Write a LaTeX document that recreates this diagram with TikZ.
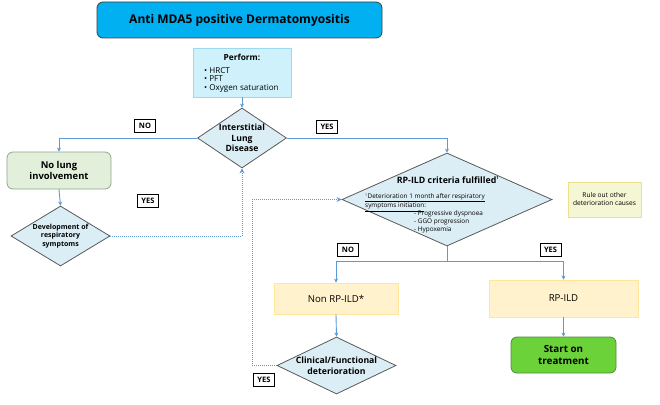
\documentclass[tikz,border=0pt]{standalone}
\usepackage{fontspec}
\setmainfont{Open Sans}
\usetikzlibrary{shapes.geometric,arrows.meta}
\definecolor{ln}{HTML}{5B9BD5}
\definecolor{titlefill}{HTML}{00B0F0}
\definecolor{perffill}{HTML}{CFF1FB}
\definecolor{perfdraw}{HTML}{9DD9F0}
\definecolor{diafill}{HTML}{DCEEF5}
\definecolor{greenfill}{HTML}{E2EFDA}
\definecolor{greendraw}{HTML}{8FA88A}
\definecolor{yelfill}{HTML}{FFF2CC}
\definecolor{yeldraw}{HTML}{FFE699}
\definecolor{rulefill}{HTML}{F4F6D4}
\definecolor{ruledraw}{HTML}{EEE08A}
\definecolor{startfill}{HTML}{6CD23A}
\definecolor{startdraw}{HTML}{4E8A3A}
\tikzset{
  arr/.style={draw=ln, line width=0.9pt, -{Stealth[length=4pt,width=4pt]}},
  dotarr/.style={draw=ln, line width=1pt, densely dotted, -{Stealth[length=5pt,width=5pt]}},
  dotln/.style={draw=ln, line width=1pt, densely dotted},
  dia/.style={diamond, draw=black!65, fill=diafill, line width=0.8pt, inner sep=0pt},
  diatext/.style={align=center, inner sep=0pt, font=\bfseries\fontsize{8.6}{10.5}\selectfont},
  lab/.style={draw=black, fill=white, line width=0.8pt, inner sep=1.5pt, minimum width=21pt, minimum height=13pt, font=\bfseries\fontsize{7.5}{8}\selectfont},
  ybox/.style={rectangle, draw=yeldraw, fill=yelfill, line width=0.8pt, font=\fontsize{9.6}{11}\selectfont},
}
\begin{document}
\begin{tikzpicture}[x=1pt,y=-1pt]
\useasboundingbox[fill=white] (0,0) rectangle (660,404);

\node[rectangle, rounded corners=6pt, draw=black!75, fill=titlefill, line width=0.8pt,
  minimum width=285pt, minimum height=36pt, font=\bfseries\fontsize{12}{14}\selectfont] (title) at (239.5,20) {Anti MDA5 positive Dermatomyositis};

\node[rectangle, draw=perfdraw, fill=perffill, line width=0.8pt, minimum width=98pt, minimum height=49pt] (perf) at (242,72.5) {};
\node[font=\bfseries\fontsize{8.3}{9}\selectfont] (perft) at (242,57) {Perform:};
\node[anchor=north west, align=left, inner sep=0pt, font=\fontsize{8.1}{8.6}\selectfont] (perfl) at (204,67) {• HRCT\\• PFT\\• Oxygen saturation};

\node[dia, minimum width=89pt, minimum height=60pt] (ild) at (242,138) {};
\node[diatext] (ildt) at (ild.center) {Interstitial\\Lung\\Disease};

\node[rectangle, rounded corners=6pt, draw=greendraw, fill=greenfill, line width=0.8pt, minimum width=104pt, minimum height=37pt, align=center, font=\bfseries\fontsize{9.4}{11.5}\selectfont] (nolung) at (59,170.5) {No lung\\involvement};

\node[dia, minimum width=99pt, minimum height=60pt] (dev) at (60.5,236) {};
\node[diatext, font=\bfseries\fontsize{7}{8.5}\selectfont] (devt) at (dev.center) {Development of\\respiratory\\symptoms};

\node[dia, minimum width=210pt, minimum height=93pt] (rp) at (447,199.5) {};
\node[font=\bfseries\fontsize{8.8}{10}\selectfont] (rpt) at (448,180) {RP-ILD criteria fulfilled\textsuperscript{\fontsize{4}{4}\selectfont 1}};
\node[anchor=north west, align=left, inner sep=0pt, font=\fontsize{6.4}{7.5}\selectfont] (rpc) at (365,193.5) {\underline{\textsuperscript{\fontsize{3.5}{4}\selectfont 1}Deterioration 1 month after respiratory}\\\underline{symptoms initiation}:};
\node[anchor=north west, align=left, inner sep=0pt, font=\fontsize{6.4}{8}\selectfont] (rpi) at (414,210) {- Progressive dyspnoea\\- GGO progression\\- Hypoxemia};

\node[rectangle, draw=ruledraw, fill=rulefill, line width=0.8pt, minimum width=73pt, minimum height=35pt, align=center, font=\fontsize{6.6}{8}\selectfont] (rule) at (604.5,199.5) {Rule out other\\deterioration causes};

\node[ybox, minimum width=124pt, minimum height=31pt] (nonrp) at (336,298.5) {Non RP-ILD*};
\node[ybox, minimum width=149pt, minimum height=37pt] (rpild) at (563.5,298.5) {RP-ILD};

\node[dia, minimum width=119pt, minimum height=57pt] (clin) at (336.5,365.5) {};
\node[diatext, font=\bfseries\fontsize{8.7}{11}\selectfont] (clint) at (clin.center) {Clinical/Functional\\deterioration};

\node[rectangle, rounded corners=6pt, draw=startdraw, fill=startfill, line width=0.8pt, minimum width=105pt, minimum height=36pt, align=center, font=\bfseries\fontsize{9.8}{11.5}\selectfont] (start) at (563.5,355) {Start on\\treatment};

\node[lab] (l1) at (145,126) {NO};
\node[lab] (l2) at (327,127) {YES};
\node[lab] (l3) at (148,201) {YES};
\node[lab] (l4) at (348,249.5) {NO};
\node[lab] (l5) at (550.5,249.5) {YES};
\node[lab] (l6) at (264,379.5) {YES};

\coordinate (split) at (447,261);
\coordinate (loop) at (252,365.5);

\draw[arr] (perf.south) -- (ild.north);
\draw[arr] (ild.west) -| (nolung.north);
\draw[arr] (ild.east) -| (rp.north);
\draw[arr] (nolung.south) -- (dev.north);
\draw[dotarr] (dev.east) -| (ild.south);
\draw[draw=ln, line width=0.9pt] (rp.south) -- (split);
\draw[arr] (split) -| (nonrp.north);
\draw[arr] (split) -| (rpild.north);
\draw[arr] (nonrp.south) -- (clin.north);
\draw[dotln] (clin.west) -- (loop);
\draw[dotarr] (loop) |- (rp.west);
\draw[arr] (rpild.south) -- (start.north);
\end{tikzpicture}
\end{document}
